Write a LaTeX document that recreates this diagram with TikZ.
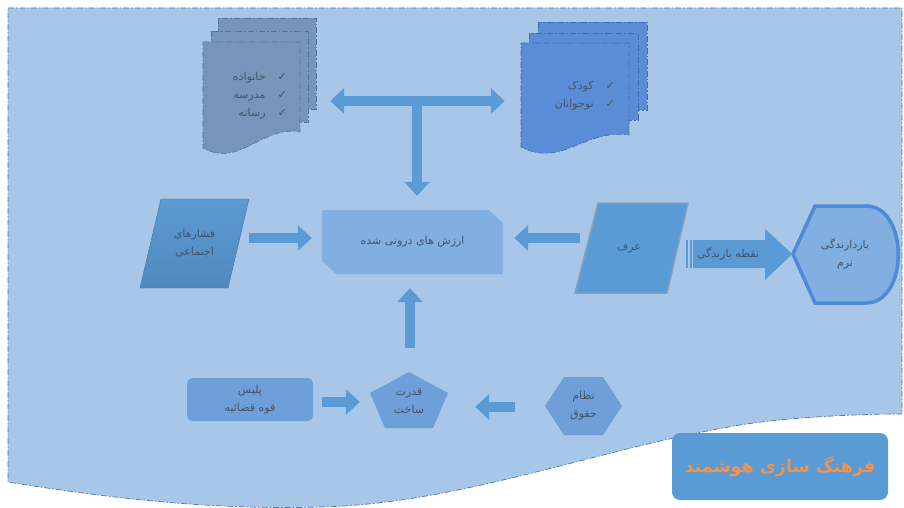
\documentclass[tikz,border=0pt]{standalone}
\usepackage{fontspec}
\usepackage{tikz}
\usetikzlibrary{arrows.meta,calc,positioning}
\newfontfamily\fafont[Script=Arabic]{DejaVu Sans}
\TeXXeTstate=1
\newcommand{\fa}[1]{{\fafont\beginR #1\endR}}
\definecolor{bgblue}{HTML}{A8C7E8}
\definecolor{bgline}{HTML}{4E77AB}
\definecolor{famfill}{HTML}{7895B9}
\definecolor{famline}{HTML}{56739E}
\definecolor{kidfill}{HTML}{5A8DD6}
\definecolor{kidline}{HTML}{3E6DB3}
\definecolor{arrowblue}{HTML}{5B9BD5}
\definecolor{boxblue}{HTML}{82AFE2}
\definecolor{midblue}{HTML}{6E9FD8}
\definecolor{txtgray}{HTML}{44546A}
\definecolor{titleorange}{HTML}{F3924A}
\definecolor{softline}{HTML}{4F8AD6}

\tikzset{
  fatext/.style={font=\fontsize{11}{18}\selectfont, text=txtgray, align=center},
  shapebox/.style={inner sep=0pt, fatext},
  docline/.style={dash pattern=on 6pt off 2pt on 1.5pt off 2pt, line width=0.7pt},
  famsheet/.style={fill=famfill, draw=famline, docline},
  kidsheet/.style={fill=kidfill, draw=kidline, docline},
  barrow/.style={draw=arrowblue, line width=10pt, -{Triangle[width=25pt,length=14pt]}},
  dblarrow/.style={draw=arrowblue, line width=10pt, {Triangle[width=25pt,length=14pt]}-{Triangle[width=25pt,length=14pt]}}
}

\begin{document}
\begin{tikzpicture}[x=1pt,y=-1pt]
  \useasboundingbox (0,0) rectangle (904,508);
  % background sheet
  \filldraw[fill=bgblue, draw=bgline, docline] (8,8) -- (902,8) -- (902,414)
    .. controls (860,414) and (790,417) .. (740,425)
    .. controls (600,448) and (460,504) .. (320,507)
    .. controls (220,510) and (120,500) .. (8,482) -- cycle;

  % family / school / media
  \foreach \l/\t/\r/\b in {218/18/316/109, 211/31/308/122}
    \filldraw[famsheet] (\l,\t) rectangle (\r,\b);
  \filldraw[famsheet] (203,42) -- (300,42) -- (300,132) .. controls (262,125) and (240,168) .. (203,148) -- cycle;
  \node[shapebox, minimum width=97, minimum height=106] (fam) at (251.5,95) {};
  \node[fatext, anchor=east, inner sep=0pt] (famlist) at (293,95) {%
    \begin{tabular}{r@{\hspace{12pt}}c}
      \fa{خانواده} & {\fafont ✓}\\
      \fa{مدرسه} & {\fafont ✓}\\
      \fa{رسانه} & {\fafont ✓}
    \end{tabular}};

  % children / teenagers
  \foreach \l/\t/\r/\b in {538/22/647/110, 529/33/638/120}
    \filldraw[kidsheet] (\l,\t) rectangle (\r,\b);
  \filldraw[kidsheet] (521,43) -- (629,43) -- (629,135) .. controls (586,128) and (562,168) .. (521,147) -- cycle;
  \node[shapebox, minimum width=108, minimum height=104] (kid) at (575,95) {};
  \node[fatext, anchor=east, inner sep=0pt] (kidlist) at (621,95) {%
    \begin{tabular}{r@{\hspace{12pt}}c}
      \fa{کودک} & {\fafont ✓}\\
      \fa{نوجوانان} & {\fafont ✓}
    \end{tabular}};

  % internalised values
  \filldraw[fill=boxblue, draw=boxblue!80!white] (322,210) -- (489,210) -- (503,223) -- (503,274) -- (336,274) -- (322,261) -- cycle;
  \node[shapebox, minimum width=181, minimum height=64] (val) at (412.5,242) {\fa{ارزش های درونی شده}};

  \coordinate (hub) at (417,101);
  \draw[dblarrow] ($(fam.east)+(30,6)$) -- ($(kid.west)+(-16,6)$);
  \draw[barrow] (hub) -- ($(hub |- val.north)+(0,-14)$);

  % social pressure
  \shade[top color=arrowblue, bottom color=arrowblue!88!black, draw=arrowblue!75!black] (161,199) -- (249,199) -- (228,288) -- (140,288) -- cycle;
  \node[shapebox, minimum width=109, minimum height=89] (press) at (194.5,243.5) {\fa{فشارهای}\\\fa{اجتماعی}};
  \draw[barrow] ($(press.east)+(0,-5.5)$) -- ($(val.west)+(-10,-4)$);

  % custom
  \filldraw[fill=arrowblue, draw=black!20!bgblue, line width=1.5pt] (598,203) -- (688,203) -- (667,293) -- (575,293) -- cycle;
  \node[shapebox, minimum width=113, minimum height=90] (orf) at (629,248) {\fa{عرف}};
  \draw[barrow] ($(orf.west)+(8,-10)$) -- ($(val.east)+(11,-4)$);

  % soft deterrence
  \filldraw[fill=boxblue, draw=softline, line width=3.5pt] (793,254) -- (815,206) -- (866,206)
    .. controls (909,206) and (909,303) .. (866,303) -- (815,303) -- cycle;
  \node[shapebox, minimum width=105, minimum height=97] (soft) at (845,254) {\fa{بازدارندگی}\\\fa{نرم}};

  \fill[arrowblue] (686,240) rectangle (688,268);
  \fill[arrowblue] (689.5,240) rectangle (691.5,268);
  \fill[arrowblue] (693,240) -- (765,240) -- (765,229) -- (soft.west) -- (765,280) -- (765,268) -- (693,268) -- cycle;
  \node[shapebox] (gate) at (728,254) {\fa{نقطه بازندگی}};

  % bottom row
  \node[shapebox, fill=midblue, rounded corners=6pt, minimum width=126, minimum height=43] (pol) at (250,399.5) {\fa{پلیس}\\\fa{قوه قضائیه}};
  \fill[midblue] (409,372) -- (448,393) -- (433,428) -- (385,428) -- (370,393) -- cycle;
  \node[shapebox, minimum width=78, minimum height=56] (power) at (409,401) {\fa{قدرت}\\\fa{ساخت}};
  \fill[midblue] (545,406) -- (564,377) -- (603,377) -- (622,406) -- (603,435) -- (564,435) -- cycle;
  \node[shapebox, minimum width=77, minimum height=58] (law) at (583.5,406) {\fa{نظام}\\\fa{حقوق}};

  \draw[barrow] ($(pol.east)+(9,2.5)$) -- ($(power.west)+(-10,1)$);
  \draw[barrow] ($(law.west)+(-30,1)$) -- ($(power.east)+(27,6)$);
  \draw[barrow] ($(power.north)+(1,-25)$) -- ($(val.south)+(-2.5,14)$);

  % title
  \node[fill=arrowblue, rounded corners=8pt, minimum width=216, minimum height=67,
        font=\bfseries\fontsize{17.5}{22}\selectfont, text=titleorange] (title) at (780,466.5) {\fa{فرهنگ سازی هوشمند}};
\end{tikzpicture}
\end{document}
